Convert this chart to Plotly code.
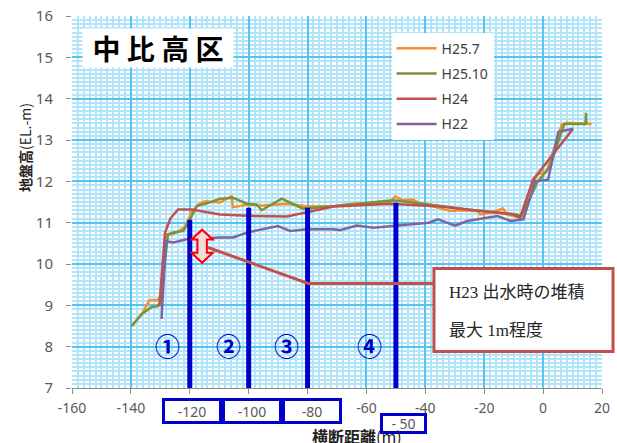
import plotly.graph_objects as go

# ---------------- data ----------------
series_names = ["H25.7", "H25.10", "H24", "H22"]

h25_7_x = [-139.7, -136.2, -133.7, -131.1, -130.1, -127.9, -126.1, -123.9, -121.6, -119.4,
           -117.1, -114.8, -109.7, -105.8, -105.3, -100.6, -96.2, -91.7, -87.0, -80.2,
           -71.3, -64.6, -52.0, -50.3, -47.5, -44.2, -41.8, -36.0, -31.6, -27.2,
           -22.4, -21.4, -18.0, -13.6, -12.4, -7.8, -4.5, -2.1, 1.2, 6.3, 8.0, 16.5]
h25_7_y = [8.5, 8.8, 9.12, 9.12, 9.2, 10.7, 10.72, 10.78, 10.9, 11.25,
           11.44, 11.52, 11.49, 11.64, 11.37, 11.44, 11.41, 11.44, 11.46, 11.4,
           11.4, 11.46, 11.49, 11.63, 11.54, 11.56, 11.46, 11.37, 11.28, 11.3,
           11.28, 11.2, 11.24, 11.34, 11.2, 11.12, 11.78, 12.16, 12.24, 13.37, 13.42, 13.39]

h25_10_x = [-139.7, -136.2, -132.9, -130.8, -129.9, -127.4, -125.5, -122.2, -119.9, -117.6,
            -113.1, -109.7, -105.3, -100.6, -97.3, -95.6, -88.8, -81.6, -71.3, -57.8,
            -51.0, -40.7, -23.8, -9.0, -7.3, -2.1, 2.3, 7.2, 14.4, 14.6, 14.7]
h25_10_y = [8.5, 8.8, 8.96, 8.98, 9.1, 10.72, 10.76, 10.8, 11.08, 11.4,
            11.49, 11.58, 11.6, 11.46, 11.44, 11.3, 11.58, 11.34, 11.4, 11.49,
            11.54, 11.46, 11.3, 11.2, 11.16, 11.96, 12.36, 13.39, 13.39, 13.66, 13.39]

h24_x = [-130.3, -128.4, -126.6, -124.0, -119.3, -109.7, -98.5, -87.0, -80.2, -71.3,
         -65.6, -52.0, -35.0, -22.4, -10.2, -7.8, -3.4, 10.2]
h24_y = [8.98, 10.76, 11.1, 11.32, 11.32, 11.2, 11.16, 11.15, 11.25, 11.39,
         11.41, 11.46, 11.39, 11.3, 11.2, 11.12, 12.04, 13.27]

h22_x = [-129.6, -128.1, -125.5, -121.1, -109.7, -105.3, -100.6, -95.2, -90.1, -85.9,
         -80.2, -71.3, -69.0, -63.3, -57.7, -51.0, -38.9, -35.7, -29.9, -25.8,
         -22.4, -15.5, -11.0, -6.7, -2.7, 1.7, 5.2, 10.2]
h22_y = [8.67, 10.55, 10.52, 10.6, 10.64, 10.64, 10.76, 10.84, 10.92, 10.8,
         10.84, 10.84, 10.82, 10.93, 10.88, 10.92, 11.0, 11.08, 10.93, 11.04,
         11.08, 11.16, 11.04, 11.08, 12.0, 12.04, 13.2, 13.27]

# section markers (vertical blue bars)
section_x = [-120, -100, -80, -50]
section_top = [11.07, 11.36, 11.36, 11.48]
section_labels = ["①", "②", "③", "④"]
section_label_x = [-127.4, -107.0, -87.3, -58.8]
section_label_y = 8.05

# deposition arrow and leader
arrow_x = -115.8
arrow_top = 10.83
arrow_bottom = 10.03
leader_x = [-113.8, -79.8, -37.0]
leader_y = [10.40, 9.53, 9.53]

x_ticks = [-160, -140, -120, -100, -80, -60, -40, -20, 0, 20]
x_boxed = [-120, -100, -80]
y_ticks = [7, 8, 9, 10, 11, 12, 13, 14, 15, 16]

title_text = "中比高区"
note_lines = ["H23 出水時の堆積", "最大 1m程度"]

colors = ["#f7902c", "#77933c", "#c0504d", "#8064a2"]

# ---------------- figure ----------------
fig = go.Figure()
for name, xs, ys, c in zip(series_names,
                           [h25_7_x, h25_10_x, h24_x, h22_x],
                           [h25_7_y, h25_10_y, h24_y, h22_y], colors):
    fig.add_trace(go.Scatter(x=xs, y=ys, mode="lines", name=name,
                             legendgroup=name,
                             line=dict(color=c, width=2.5)))

for sx, st in zip(section_x, section_top):
    fig.add_trace(go.Scatter(x=[sx, sx], y=[7, st], mode="lines",
                             line=dict(color="#0000cc", width=5),
                             showlegend=False, hoverinfo="skip"))

fig.add_trace(go.Scatter(x=leader_x, y=leader_y, mode="lines",
                         line=dict(color="#c0504d", width=3),
                         showlegend=False, hoverinfo="skip"))

# double arrow shape
hw, sw, hh = 3.6, 1.6, 0.24
pts = [(arrow_x, arrow_top), (arrow_x + hw, arrow_top - hh), (arrow_x + sw, arrow_top - hh),
       (arrow_x + sw, arrow_bottom + hh), (arrow_x + hw, arrow_bottom + hh), (arrow_x, arrow_bottom),
       (arrow_x - hw, arrow_bottom + hh), (arrow_x - sw, arrow_bottom + hh),
       (arrow_x - sw, arrow_top - hh), (arrow_x - hw, arrow_top - hh)]
path = "M " + " L ".join(f"{px},{py}" for px, py in pts) + " Z"
shapes = [dict(type="path", path=path, xref="x", yref="y",
               fillcolor="#f2dcdb", line=dict(color="#ff0000", width=2), layer="above")]

# callout box (paper coords)
shapes.append(dict(type="rect", xref="paper", yref="paper",
                   x0=0.683, x1=1.0208, y0=0.098, y1=0.321,
                   fillcolor="white", line=dict(color="#c0504d", width=3), layer="above"))

annotations = []
# title box
annotations.append(dict(xref="paper", yref="paper", x=0.019, y=0.968,
                        xanchor="left", yanchor="top", showarrow=False,
                        text="<b>" + " ".join(title_text) + "</b>",
                        font=dict(family="Noto Sans CJK JP", size=28, color="black"),
                        bgcolor="white", width=150, height=38, borderpad=0))
# note text
for line, yy in zip(note_lines, [0.256, 0.155]):
    annotations.append(dict(xref="paper", yref="paper", x=0.7075, y=yy,
                            xanchor="left", yanchor="middle", showarrow=False,
                            text=line,
                            font=dict(family="Liberation Serif, Noto Sans CJK JP, serif",
                                      size=17, color="#262626")))
# circled numbers
for lab, lx in zip(section_labels, section_label_x):
    annotations.append(dict(xref="x", yref="y", x=lx, y=section_label_y,
                            showarrow=False, text="<b>" + lab + "</b>",
                            font=dict(family="Noto Sans CJK JP", size=25, color="#0000cc")))
# boxed tick labels
for bx, off in zip(x_boxed, [0.8, 1.3, 1.5]):
    annotations.append(dict(xref="x", yref="paper", x=bx + off, y=-0.062,
                            xanchor="center", yanchor="middle", showarrow=False,
                            text=str(bx),
                            font=dict(family="Noto Sans", size=14, color="#595959"),
                            bgcolor="white", bordercolor="#0000cc", borderwidth=3,
                            borderpad=0, width=54, height=20))
annotations.append(dict(xref="x", yref="paper", x=-47.5, y=-0.096,
                        xanchor="center", yanchor="middle", showarrow=False,
                        text="- 50",
                        font=dict(family="Noto Sans", size=14, color="#595959"),
                        bgcolor="white", bordercolor="#0000cc", borderwidth=3,
                        borderpad=0, width=41, height=15))
# axis titles
annotations.append(dict(xref="paper", yref="paper", x=0.538, y=-0.128,
                        xanchor="center", yanchor="middle", showarrow=False,
                        text="<b>横断距離</b>(m)",
                        font=dict(family="Noto Sans CJK JP", size=16, color="#222222")))
annotations.append(dict(xref="paper", yref="paper", x=-0.09, y=0.646,
                        xanchor="center", yanchor="middle", showarrow=False,
                        textangle=-90,
                        text="<b>地盤高</b>(EL.-m)",
                        font=dict(family="Noto Sans CJK JP", size=14, color="#222222")))

x_ticktext = ["" if t in x_boxed else str(t) for t in x_ticks]

major = "rgb(85,196,240)"
minor = "rgb(178,229,249)"

fig.update_layout(
    template="none",
    width=617, height=443,
    margin=dict(l=72, r=15, t=16, b=55),
    paper_bgcolor="white", plot_bgcolor="white",
    font=dict(family="Noto Sans", size=14, color="#595959"),
    shapes=shapes, annotations=annotations,
    showlegend=True,
    legend=dict(x=0.603, y=0.955, xanchor="left", yanchor="top",
                bgcolor="white", borderwidth=0, itemwidth=40,
                tracegroupgap=4,
                font=dict(family="Noto Sans", size=14, color="#404040")),
    xaxis=dict(range=[-160, 20], tickvals=x_ticks, ticktext=x_ticktext,
               showgrid=True, gridcolor=major, gridwidth=2, zeroline=False,
               showline=True, linecolor="#8c8c8c", linewidth=1,
               ticks="outside", ticklen=5, tickcolor="#8c8c8c",
               ticklabelstandoff=2,
               tickfont=dict(size=14, color="#595959"),
               minor=dict(tickmode="linear", tick0=0, dtick=2, showgrid=True,
                          gridcolor=minor, gridwidth=2, ticks="")),
    yaxis=dict(range=[7, 16], tickvals=y_ticks,
               showgrid=True, gridcolor=major, gridwidth=2, zeroline=False,
               showline=False,
               ticks="outside", ticklen=5, tickcolor="#8c8c8c",
               ticklabelstandoff=10,
               tickfont=dict(size=15, color="#595959"),
               minor=dict(tickmode="linear", tick0=0, dtick=0.1, showgrid=True,
                          gridcolor=minor, gridwidth=1.5, ticks="")),
)

fig.write_html("out.html", config={"displayModeBar": False},
               post_script="document.body.style.margin='0';document.body.style.overflow='hidden';")
